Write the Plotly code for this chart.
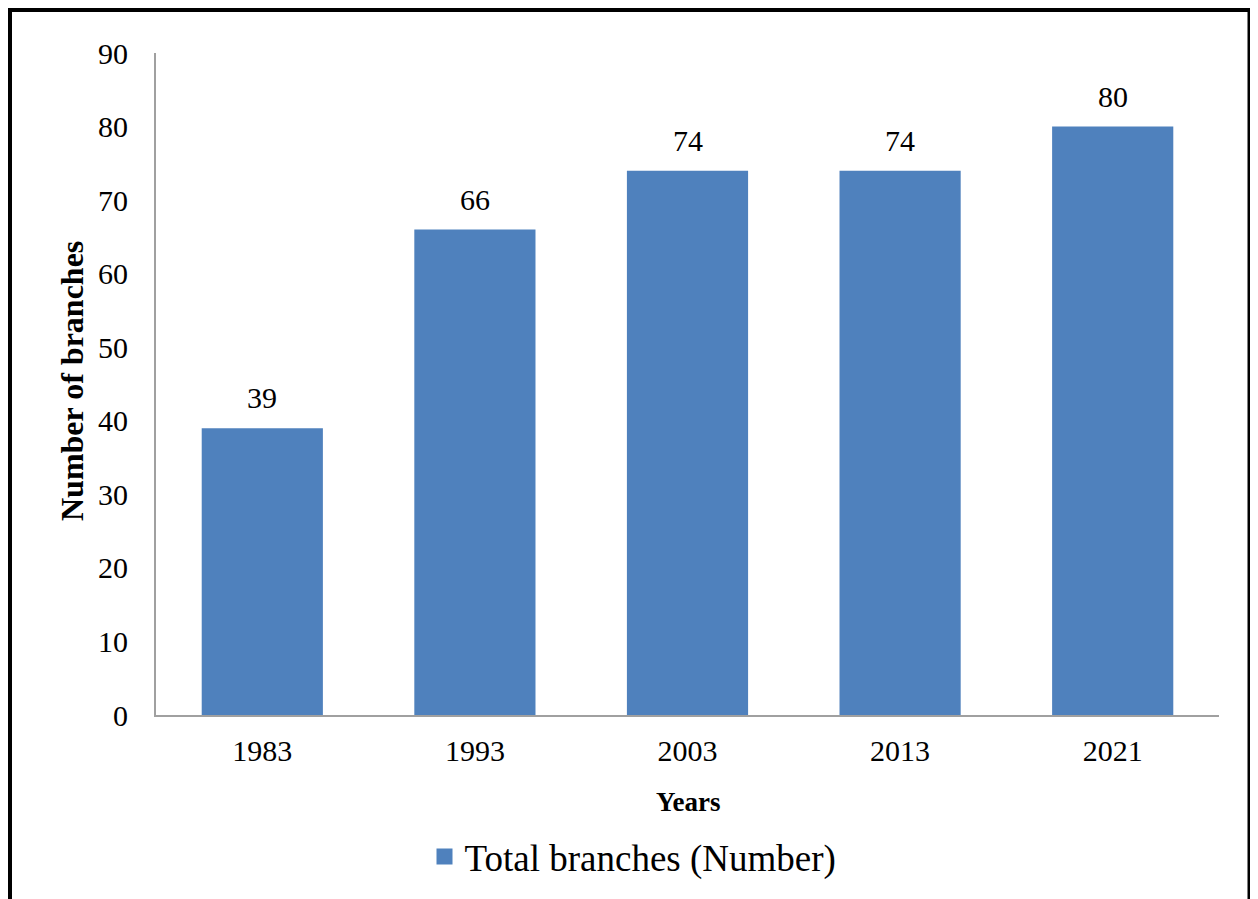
import plotly.graph_objects as go

# data
years = ["1983", "1993", "2003", "2013", "2021"]
branches = [39, 66, 74, 74, 80]
y_ticks = [0, 10, 20, 30, 40, 50, 60, 70, 80, 90]

BAR_COLOR = "#4F81BD"
AXIS_COLOR = "#A0A0A0"
FONT = "Liberation Serif, Times New Roman, serif"

# the page body adds an 8px margin, so the figure is a bit smaller
OFF = 8
W, H = 1258 - OFF, 899 - OFF
# plot area (screen px: x 156..1219, y 53..715)
L, R, T, B = 156 - OFF, 1258 - 1219, 53 - OFF, 899 - 715
pw, ph = W - L - R, H - T - B


def px_x(sx):
    return (sx - OFF - L) / pw


def px_y(sy):
    return (H - B - (sy - OFF)) / ph


fig = go.Figure()

fig.add_trace(
    go.Bar(
        x=years,
        y=branches,
        marker=dict(color=BAR_COLOR, line=dict(width=0)),
        showlegend=False,
        hoverinfo="x+y",
    )
)

# legend entry with a larger square symbol
fig.add_trace(
    go.Scatter(
        x=[None],
        y=[None],
        mode="markers",
        marker=dict(symbol="square", size=20, color=BAR_COLOR),
        name="Total branches (Number)",
    )
)

# value labels above bars (category axis -> use index positions)
for i, v in enumerate(branches):
    fig.add_annotation(
        x=i, y=v, text=str(v), showarrow=False,
        xanchor="center", yanchor="bottom", yshift=12,
        font=dict(family=FONT, size=30, color="black"),
    )

# axis titles
fig.add_annotation(
    x=px_x(72), y=px_y(381), xref="paper", yref="paper",
    xanchor="center", yanchor="middle",
    text="<b>Number of branches</b>", textangle=-90, showarrow=False,
    font=dict(family=FONT, size=32, color="black"),
)
fig.add_annotation(
    x=0.5, y=px_y(802), xref="paper", yref="paper",
    xanchor="center", yanchor="middle",
    text="<b>Years</b>", showarrow=False,
    font=dict(family=FONT, size=27, color="black"),
)

# outer frame (its left/top edge sits at the figure border)
fig.add_shape(
    type="rect", xref="paper", yref="paper",
    x0=px_x(OFF + 2), x1=px_x(1249.5), y0=px_y(910), y1=px_y(OFF + 2),
    line=dict(color="black", width=4), fillcolor="rgba(0,0,0,0)",
)

fig.update_layout(
    width=W,
    height=H,
    margin=dict(l=L, r=R, t=T, b=B, autoexpand=False),
    paper_bgcolor="white",
    plot_bgcolor="white",
    bargap=0.43,
    font=dict(family=FONT, size=30, color="black"),
    legend=dict(
        orientation="h",
        x=px_x(633), xanchor="center",
        y=px_y(857), yanchor="middle",
        font=dict(family=FONT, size=37, color="black"),
        itemsizing="trace",
    ),
)

fig.update_xaxes(
    type="category",
    range=[-0.5, len(years) - 0.5],
    automargin=False,
    showgrid=False,
    showline=True,
    linecolor=AXIS_COLOR,
    linewidth=2,
    ticks="",
    ticklabelstandoff=8,
    tickfont=dict(family=FONT, size=30, color="black"),
)
fig.update_yaxes(
    range=[0, 90],
    tickvals=y_ticks,
    automargin=False,
    showgrid=False,
    zeroline=False,
    showline=True,
    linecolor=AXIS_COLOR,
    linewidth=2,
    ticks="",
    ticklabelstandoff=20,
    tickfont=dict(family=FONT, size=30, color="black"),
)

fig.write_html("out.html")
